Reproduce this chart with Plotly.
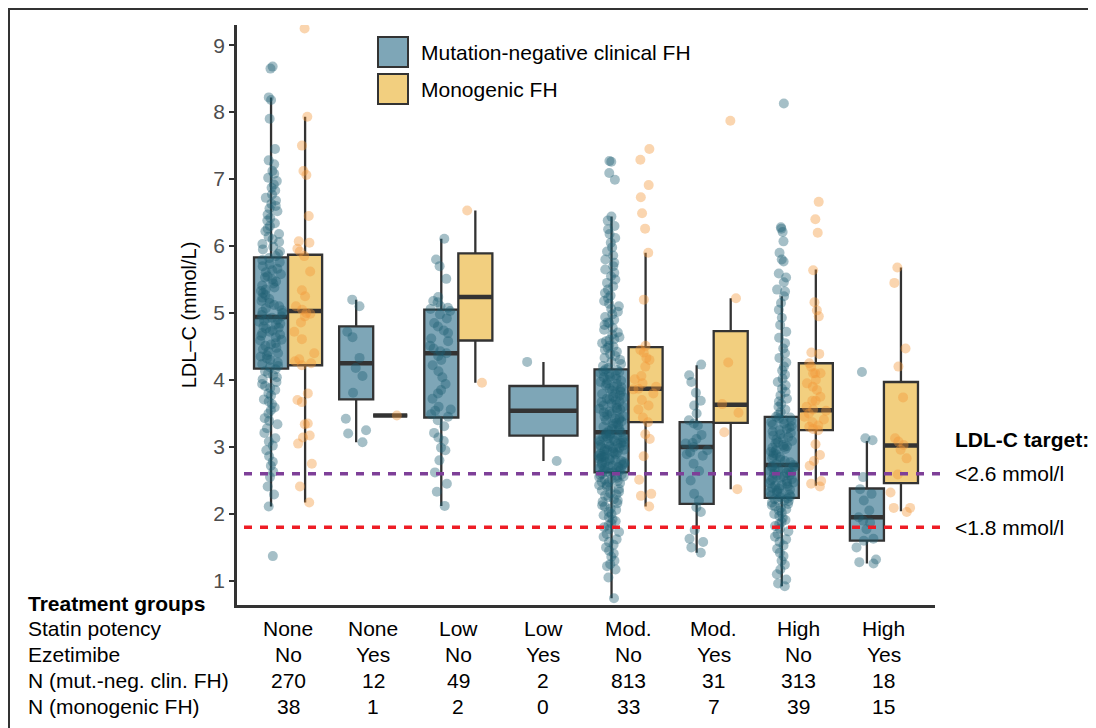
import plotly.graph_objects as go

# ---------------- data ----------------
statin = ["None", "None", "Low", "Low", "Mod.", "Mod.", "High", "High"]
ezetimibe = ["No", "Yes", "No", "Yes", "No", "Yes", "No", "Yes"]
n_negative = [270, 12, 49, 2, 813, 31, 313, 18]
n_monogenic = [38, 1, 2, 0, 33, 7, 39, 15]

# box statistics (q1, median, q3, whisker ends)
neg_q1 = [4.17, 3.71, 3.44, 3.17, 2.62, 2.15, 2.24, 1.60]
neg_med = [4.94, 4.25, 4.40, 3.54, 3.22, 3.00, 2.73, 1.95]
neg_q3 = [5.83, 4.80, 5.05, 3.91, 4.16, 3.37, 3.45, 2.38]
neg_lo = [2.11, 3.07, 2.12, 2.79, 0.74, 1.42, 0.92, 1.26]
neg_hi = [8.22, 5.20, 6.11, 4.27, 6.44, 4.22, 5.25, 3.09]

mono_q1 = [4.22, 3.47, 4.59, None, 3.37, 3.36, 3.25, 2.46]
mono_med = [5.03, 3.47, 5.24, None, 3.87, 3.63, 3.55, 3.02]
mono_q3 = [5.87, 3.47, 5.89, None, 4.49, 4.73, 4.25, 3.97]
mono_lo = [2.17, 3.47, 3.96, None, 2.11, 2.37, 2.42, 2.04]
mono_hi = [7.93, 3.47, 6.53, None, 5.90, 5.22, 5.65, 5.68]

# individual LDL-C values (estimated from the jittered points)
neg_none_no = [1.37, 2.11, 2.29, 2.41, 2.55, 2.63, 2.72, 2.78, 2.86, 2.95, 3.02, 3.08, 3.13, 3.21,
               3.28, 3.34, 3.39, 3.43, 3.5, 3.55, 3.59, 3.64, 3.68, 3.71, 3.77, 3.8, 3.85, 3.88,
               3.91, 3.94, 3.97, 4.01, 4.04, 4.07, 4.1, 4.13, 4.16, 4.19, 4.21, 4.24, 4.26, 4.3,
               4.32, 4.35, 4.37, 4.4, 4.42, 4.46, 4.48, 4.51, 4.53, 4.55, 4.59, 4.6, 4.64, 4.66,
               4.68, 4.7, 4.72, 4.74, 4.77, 4.78, 4.8, 4.83, 4.84, 4.87, 4.89, 4.9, 4.92, 4.93,
               4.95, 4.97, 5.0, 5.02, 5.04, 5.07, 5.1, 5.12, 5.15, 5.18, 5.21, 5.23, 5.27, 5.3,
               5.33, 5.35, 5.38, 5.41, 5.44, 5.47, 5.5, 5.53, 5.55, 5.58, 5.61, 5.64, 5.66, 5.7,
               5.73, 5.76, 5.79, 5.82, 5.85, 5.88, 5.92, 5.95, 5.99, 6.03, 6.06, 6.1, 6.14, 6.18,
               6.22, 6.26, 6.3, 6.34, 6.38, 6.42, 6.47, 6.52, 6.56, 6.6, 6.63, 6.68, 6.72, 6.77,
               6.83, 6.87, 6.92, 6.97, 7.02, 7.08, 7.12, 7.22, 7.28, 7.45, 7.9, 8.18, 8.22, 8.65, 8.68]
neg_none_yes = [5.2, 5.1, 4.72, 4.64, 4.33, 4.18, 4.06, 3.81, 3.42, 3.25, 3.2, 3.07]
neg_low_no = [6.11, 5.8, 5.7, 5.51, 5.24, 5.18, 5.16, 5.1, 5.08, 5.06, 5.03, 4.98, 4.92, 4.85,
              4.8, 4.74, 4.7, 4.62, 4.58, 4.51, 4.47, 4.43, 4.4, 4.36, 4.3, 4.22, 4.13, 4.04,
              3.94, 3.85, 3.8, 3.72, 3.6, 3.56, 3.54, 3.49, 3.45, 3.4, 3.31, 3.21, 3.14, 3.09,
              2.99, 2.95, 2.8, 2.62, 2.45, 2.33, 2.12]
neg_low_yes = [4.27, 2.79]
neg_mod_no = [0.74, 1.05, 1.17, 1.22, 1.25, 1.3, 1.36, 1.41, 1.45, 1.5, 1.54, 1.58, 1.62, 1.66,
              1.7, 1.73, 1.77, 1.8, 1.83, 1.86, 1.89, 1.92, 1.95, 1.98, 2.0, 2.03, 2.06, 2.08,
              2.11, 2.13, 2.16, 2.18, 2.2, 2.22, 2.25, 2.27, 2.29, 2.31, 2.33, 2.35, 2.37, 2.39,
              2.41, 2.43, 2.44, 2.46, 2.47, 2.48, 2.49, 2.51, 2.52, 2.54, 2.55, 2.56, 2.57, 2.58,
              2.59, 2.6, 2.61, 2.62, 2.63, 2.64, 2.65, 2.66, 2.67, 2.68, 2.69, 2.7, 2.71, 2.72,
              2.73, 2.74, 2.75, 2.76, 2.77, 2.78, 2.79, 2.8, 2.81, 2.82, 2.83, 2.84, 2.85, 2.86,
              2.87, 2.88, 2.89, 2.9, 2.91, 2.92, 2.93, 2.94, 2.95, 2.96, 2.97, 2.98, 2.99, 3.0,
              3.01, 3.02, 3.03, 3.04, 3.05, 3.06, 3.07, 3.08, 3.09, 3.1, 3.11, 3.12, 3.13, 3.14,
              3.15, 3.16, 3.17, 3.18, 3.19, 3.2, 3.21, 3.22, 3.24, 3.25, 3.27, 3.28, 3.3, 3.32,
              3.33, 3.35, 3.36, 3.38, 3.4, 3.41, 3.42, 3.43, 3.45, 3.46, 3.48, 3.5, 3.52, 3.53,
              3.55, 3.56, 3.57, 3.58, 3.6, 3.62, 3.63, 3.65, 3.67, 3.68, 3.7, 3.71, 3.72, 3.74,
              3.75, 3.77, 3.79, 3.8, 3.82, 3.84, 3.85, 3.87, 3.89, 3.9, 3.92, 3.94, 3.95, 3.97,
              3.99, 4.0, 4.02, 4.04, 4.05, 4.07, 4.09, 4.1, 4.12, 4.13, 4.15, 4.16, 4.18, 4.21,
              4.24, 4.27, 4.3, 4.33, 4.36, 4.39, 4.42, 4.45, 4.48, 4.5, 4.51, 4.55, 4.58, 4.6,
              4.61, 4.64, 4.68, 4.71, 4.75, 4.78, 4.82, 4.85, 4.86, 4.9, 4.94, 4.98, 5.02, 5.06,
              5.1, 5.14, 5.18, 5.22, 5.26, 5.3, 5.35, 5.4, 5.45, 5.5, 5.55, 5.6, 5.65, 5.7,
              5.75, 5.8, 5.86, 5.92, 5.98, 6.05, 6.12, 6.18, 6.25, 6.3, 6.38, 6.44, 6.99, 7.09,
              7.26, 7.27]
neg_mod_yes = [4.23, 4.07, 3.97, 3.81, 3.69, 3.62, 3.5, 3.4, 3.35, 3.32, 3.18, 3.12, 3.06, 3.05,
               3.0, 2.95, 2.92, 2.89, 2.87, 2.75, 2.64, 2.5, 2.3, 2.2, 2.1, 2.03, 1.76, 1.63,
               1.58, 1.5, 1.42]
neg_high_no = [0.92, 0.96, 1.02, 1.1, 1.17, 1.24, 1.3, 1.37, 1.42, 1.48, 1.53, 1.58, 1.62, 1.66,
               1.7, 1.74, 1.78, 1.82, 1.85, 1.88, 1.91, 1.94, 1.97, 2.0, 2.02, 2.05, 2.07, 2.09,
               2.11, 2.13, 2.15, 2.17, 2.19, 2.2, 2.21, 2.22, 2.23, 2.25, 2.26, 2.28, 2.29, 2.3,
               2.32, 2.33, 2.35, 2.36, 2.38, 2.39, 2.41, 2.42, 2.43, 2.45, 2.46, 2.47, 2.49, 2.5,
               2.52, 2.53, 2.54, 2.56, 2.57, 2.58, 2.6, 2.61, 2.62, 2.64, 2.65, 2.66, 2.67, 2.68,
               2.69, 2.7, 2.71, 2.72, 2.73, 2.75, 2.77, 2.79, 2.81, 2.83, 2.85, 2.87, 2.89, 2.91,
               2.93, 2.95, 2.97, 2.99, 3.0, 3.01, 3.03, 3.05, 3.07, 3.09, 3.11, 3.13, 3.15, 3.17,
               3.19, 3.21, 3.23, 3.25, 3.27, 3.29, 3.31, 3.33, 3.35, 3.37, 3.39, 3.41, 3.43, 3.44,
               3.45, 3.48, 3.52, 3.56, 3.6, 3.64, 3.68, 3.72, 3.77, 3.82, 3.87, 3.92, 3.97, 4.02,
               4.08, 4.14, 4.2, 4.26, 4.33, 4.4, 4.47, 4.55, 4.63, 4.72, 4.82, 4.93, 5.05, 5.15,
               5.25, 5.32, 5.35, 5.46, 5.53, 5.59, 5.77, 5.8, 5.9, 6.07, 6.21, 6.26, 6.28, 8.13]
neg_high_yes = [4.12, 3.13, 3.1, 2.55, 2.37, 2.3, 2.2, 2.05, 1.95, 1.9, 1.87, 1.77, 1.63, 1.6,
                1.5, 1.32, 1.28, 1.26]

mono_none_no = [9.25, 7.93, 7.5, 7.12, 7.06, 6.45, 6.07, 6.05, 5.96, 5.92, 5.85, 5.62, 5.34, 5.25,
                5.1, 5.05, 5.0, 4.99, 4.95, 4.86, 4.72, 4.61, 4.4, 4.31, 4.28, 4.25, 4.22, 3.8,
                3.7, 3.67, 3.35, 3.34, 3.17, 3.14, 3.05, 2.75, 2.41, 2.17]
mono_none_yes = [3.47]
mono_low_no = [6.53, 3.96]
mono_low_yes = []
mono_mod_no = [7.45, 7.29, 6.91, 6.73, 6.49, 6.26, 5.9, 5.2, 4.51, 4.45, 4.41, 4.33, 4.3, 4.2,
               4.06, 4.01, 3.95, 3.9, 3.87, 3.86, 3.8, 3.7, 3.62, 3.56, 3.44, 3.37, 3.19, 3.12,
               2.86, 2.51, 2.3, 2.27, 2.11]
mono_mod_yes = [7.87, 5.22, 4.26, 3.64, 3.51, 3.22, 2.37]
mono_high_no = [6.66, 6.4, 6.2, 5.64, 5.16, 5.04, 4.95, 4.41, 4.39, 4.25, 4.2, 4.1, 4.1, 4.1,
                4.0, 3.95, 3.9, 3.85, 3.75, 3.69, 3.69, 3.6, 3.56, 3.54, 3.5, 3.45, 3.41, 3.37,
                3.32, 3.3, 3.27, 3.25, 3.04, 2.88, 2.79, 2.72, 2.49, 2.45, 2.41]
mono_high_yes = [5.68, 5.45, 4.47, 4.2, 3.74, 3.13, 3.08, 3.03, 2.96, 2.83, 2.59, 2.32, 2.09,
                 2.09, 2.03]

neg_points = [neg_none_no, neg_none_yes, neg_low_no, neg_low_yes,
              neg_mod_no, neg_mod_yes, neg_high_no, neg_high_yes]
mono_points = [mono_none_no, mono_none_yes, mono_low_no, mono_low_yes,
               mono_mod_no, mono_mod_yes, mono_high_no, mono_high_yes]

series_names = ["Mutation-negative clinical FH", "Monogenic FH"]
target_values = [2.6, 1.8]
target_labels = ["<2.6 mmol/l", "<1.8 mmol/l"]

# ---------------- style ----------------
FONT = "Liberation Sans, Arial, Helvetica, sans-serif"
BLUE_FILL = "#7ea6b7"
YELLOW_FILL = "#f2cf7f"
BLUE_PT = "rgba(29,95,116,0.40)"
ORANGE_PT = "rgba(243,150,55,0.40)"
EDGE = "#333333"
PURPLE = "#7e3f98"
RED = "#ee1c25"

OFF = 8                               # page body margin of the html page
W, H = 1096 - OFF, 728 - OFF
L, R, T, B = 237, 935, 25, 605        # plot area in screen pixels
Y_LO = 0.64
Y_HI = 1 + (582 - T) / 67.1


def px(x):
    return (x - L) / (R - L)


def py(y):
    return (B - y) / (B - T)


fig = go.Figure()

stats = [
    (neg_q1, neg_med, neg_q3, neg_lo, neg_hi, n_negative, BLUE_FILL, -1),
    (mono_q1, mono_med, mono_q3, mono_lo, mono_hi, n_monogenic, YELLOW_FILL, 1),
]

positions = {}
for i in range(len(statin)):
    both = n_negative[i] > 0 and n_monogenic[i] > 0
    for s, (_, _, _, _, _, nn, _, side) in enumerate(stats):
        if nn[i] == 0:
            continue
        if both:
            positions[(s, i)] = (i + 1 + side * 0.2, 0.4)
        else:
            positions[(s, i)] = (i + 1, 0.8)

# boxes
for s, (q1, med, q3, lo, hi, nn, fill, side) in enumerate(stats):
    for i in range(len(statin)):
        if (s, i) not in positions:
            continue
        pos, w = positions[(s, i)]
        fig.add_trace(go.Box(
            x=[pos], q1=[q1[i]], median=[med[i]], q3=[q3[i]],
            lowerfence=[lo[i]], upperfence=[hi[i]],
            width=w, fillcolor=fill, line=dict(color=EDGE, width=2.3),
            whiskerwidth=0, boxpoints=False, showlegend=False, hoverinfo="skip"))
        # thick median bar
        fig.add_trace(go.Box(
            x=[pos], q1=[med[i]], median=[med[i]], q3=[med[i]],
            lowerfence=[med[i]], upperfence=[med[i]],
            width=w, fillcolor="rgba(0,0,0,0)", line=dict(color=EDGE, width=4.5),
            whiskerwidth=0, boxpoints=False, showlegend=False, hoverinfo="skip"))

# jittered points
for s, (pts_all, color) in enumerate([(neg_points, BLUE_PT), (mono_points, ORANGE_PT)]):
    for i in range(len(statin)):
        if (s, i) not in positions:
            continue
        pos, w = positions[(s, i)]
        vals = pts_all[i]
        fig.add_trace(go.Box(
            x=[pos] * len(vals), y=vals, width=w,
            boxpoints="all", jitter=0.75, pointpos=0,
            fillcolor="rgba(0,0,0,0)", line=dict(color="rgba(0,0,0,0)", width=0),
            whiskerwidth=0, marker=dict(color=color, size=10, line=dict(width=0)),
            showlegend=False, hoverinfo="skip"))

shapes = []
# target lines
for val, col in zip(target_values, [PURPLE, RED]):
    shapes.append(dict(type="line", xref="paper", yref="y", x0=px(244), x1=px(940),
                       y0=val, y1=val, line=dict(color=col, width=3.5, dash="8px,8px"),
                       layer="above"))
# manual legend
leg_items = [(BLUE_FILL, 37, 67, 52), (YELLOW_FILL, 74, 104, 89)]
annotations = []
for (fill, y0, y1, yc), name in zip(leg_items, series_names):
    shapes.append(dict(type="rect", xref="paper", yref="paper",
                       x0=px(378), x1=px(408), y0=py(y1), y1=py(y0),
                       fillcolor=fill, line=dict(color=EDGE, width=2)))
    annotations.append(dict(xref="paper", yref="paper", x=px(419), y=py(yc),
                            text=name, showarrow=False, xanchor="left", yanchor="middle",
                            font=dict(size=21, color="black", family=FONT)))
# outer frame
shapes.append(dict(type="rect", xref="paper", yref="paper",
                   x0=px(9), x1=px(1091), y0=py(740), y1=py(9),
                   line=dict(color="#333333", width=2), fillcolor="rgba(0,0,0,0)"))

# right-hand target labels
annotations.append(dict(xref="paper", yref="paper", x=px(953), y=py(440),
                        text="<b>LDL-C target:</b>", showarrow=False, xanchor="left",
                        yanchor="middle", font=dict(size=21, color="black", family=FONT)))
for val, lab in zip(target_values, target_labels):
    annotations.append(dict(xref="paper", yref="y", x=px(953), y=val,
                            text=lab, showarrow=False, xanchor="left", yanchor="middle",
                            font=dict(size=21, color="black", family=FONT)))

# table below the plot
row_y = [603, 628.5, 654, 680, 706]
row_labels = ["<b>Treatment groups</b>", "Statin potency", "Ezetimibe",
              "N (mut.-neg. clin. FH)", "N (monogenic FH)"]
for lab, yy in zip(row_labels, row_y):
    annotations.append(dict(xref="paper", yref="paper", x=px(26), y=py(yy), text=lab,
                            showarrow=False, xanchor="left", yanchor="middle",
                            font=dict(size=21, color="black", family=FONT)))
columns = [statin, ezetimibe, [str(v) for v in n_negative], [str(v) for v in n_monogenic]]
for col_vals, yy in zip(columns, row_y[1:]):
    for i, v in enumerate(col_vals):
        annotations.append(dict(xref="x", yref="paper", x=i + 1, y=py(yy), text=v,
                                showarrow=False, xanchor="center", yanchor="middle",
                                font=dict(size=21, color="black", family=FONT)))

fig.update_layout(
    width=W, height=H,
    margin=dict(l=L - OFF, r=1096 - R, t=T - OFF, b=728 - B, pad=0),
    paper_bgcolor="white", plot_bgcolor="white",
    boxmode="overlay", showlegend=False,
    font=dict(family=FONT, size=20, color="black"),
    xaxis=dict(range=[0.4, 8.6], showticklabels=False, ticks="", showgrid=False,
               zeroline=False, showline=True, linecolor=EDGE, linewidth=2.5),
    yaxis=dict(range=[Y_LO, Y_HI], tickvals=[1, 2, 3, 4, 5, 6, 7, 8, 9],
               ticks="outside", ticklen=5, tickwidth=2, tickcolor=EDGE,
               tickfont=dict(size=21, color="#4d4d4d", family=FONT),
               showgrid=False, zeroline=False, showline=True, linecolor=EDGE, linewidth=2.5,
               title=dict(text="LDL–C (mmol/L)", standoff=12,
                          font=dict(size=20, color="black", family=FONT))),
    shapes=shapes, annotations=annotations,
)

fig.write_html("out.html")
